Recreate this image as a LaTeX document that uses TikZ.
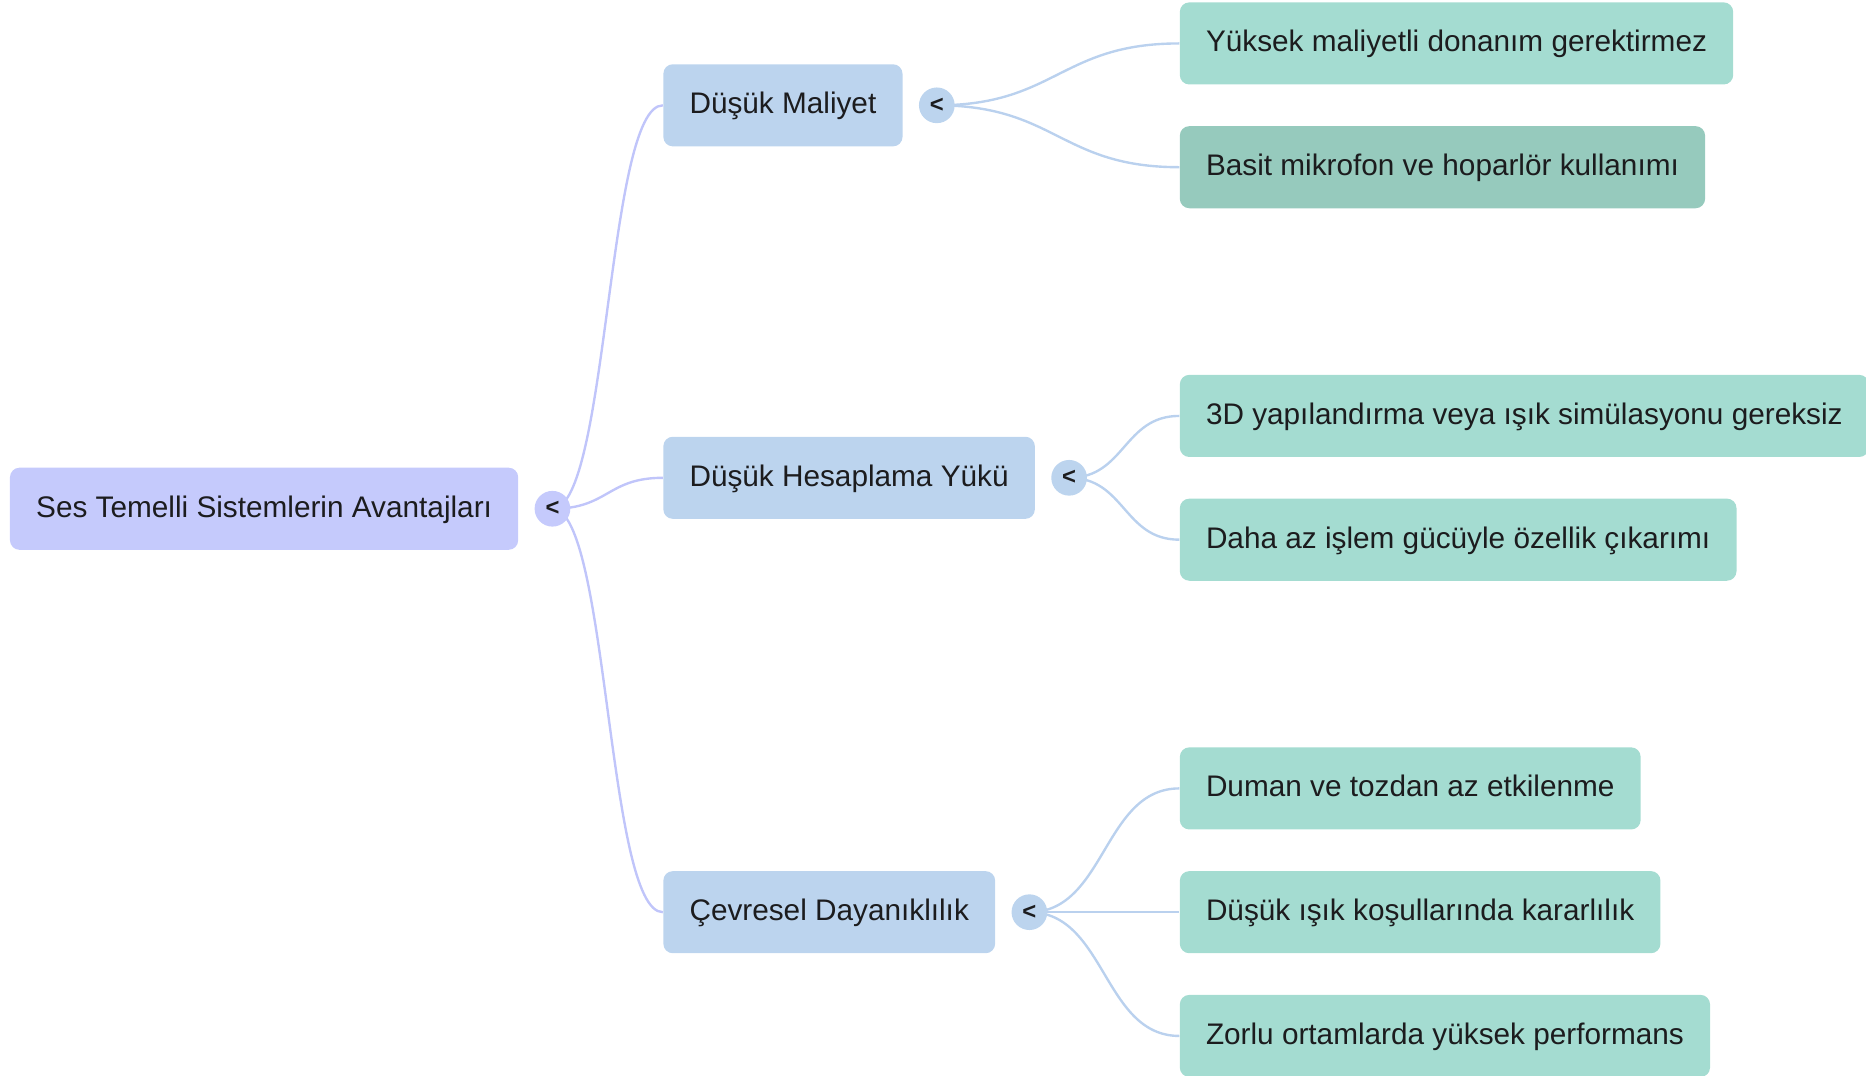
\documentclass[tikz,border=0pt]{standalone}
\usepackage{fontspec}
\setmainfont{Liberation Sans}
\usetikzlibrary{positioning,backgrounds}
\definecolor{rootcol}{RGB}{197,202,252}
\definecolor{topiccol}{RGB}{188,212,238}
\definecolor{leafcol}{RGB}{164,220,209}
\definecolor{leafdark}{RGB}{150,202,189}
\definecolor{rootedgecol}{RGB}{192,197,250}
\definecolor{topicedgecol}{RGB}{186,209,238}
\definecolor{inkcol}{RGB}{28,28,30}

\begin{document}
\begin{tikzpicture}
  [x=0.5pt, y=-0.5pt,
   every node/.style={font=\fontsize{12.5}{15}\selectfont, text=inkcol},
   box/.style={rounded corners=4pt, inner xsep=11pt, inner ysep=0pt,
     minimum height=34.5pt, text height=9pt, text depth=2pt, anchor=west},
   rootbox/.style={box, fill=rootcol},
   topicbox/.style={box, fill=topiccol},
   leafbox/.style={box, fill=leafcol},
   dot/.style={circle, inner sep=0pt, minimum size=15pt, font=\fontsize{10}{12}\selectfont\bfseries},
   rootdot/.style={dot, fill=rootcol},
   topicdot/.style={dot, fill=topiccol},
   rootedge/.style={draw=rootedgecol, line width=1pt},
   topicedge/.style={draw=topicedgecol, line width=1pt}]
  \useasboundingbox (0,0) rectangle (1568,904);

  \node[rootbox] (root) at (8,427.5) {Ses Temelli Sistemlerin Avantajları};
  \node[rootdot, right=6.5pt of root] (rootc) {<};

  \node[topicbox] (cost) at (557,88.5) {Düşük Maliyet};
  \node[topicdot, right=6.5pt of cost] (costc) {<};
  \node[topicbox] (load) at (557,401.5) {Düşük Hesaplama Yükü};
  \node[topicdot, right=6.5pt of load] (loadc) {<};
  \node[topicbox] (env) at (557,766.5) {Çevresel Dayanıklılık};
  \node[topicdot, right=6.5pt of env] (envc) {<};

  \node[leafbox] (hw) at (991,36.5) {Yüksek maliyetli donanım gerektirmez};
  \node[leafbox, fill=leafdark] (mic) at (991,140.5) {Basit mikrofon ve hoparlör kullanımı};
  \node[leafbox] (sim) at (991,349.5) {3D yapılandırma veya ışık simülasyonu gereksiz};
  \node[leafbox] (feat) at (991,453.5) {Daha az işlem gücüyle özellik çıkarımı};
  \node[leafbox] (smoke) at (991,662.5) {Duman ve tozdan az etkilenme};
  \node[leafbox] (light) at (991,766.5) {Düşük ışık koşullarında kararlılık};
  \node[leafbox] (perf) at (991,870.5) {Zorlu ortamlarda yüksek performans};

  \begin{scope}[on background layer]
    \foreach \t in {cost,load,env}
      \draw[rootedge] (rootc.center) .. controls +(47,0) and +(-47,0) .. (\t.west);
    \foreach \l in {hw,mic}
      \draw[topicedge] (costc.center) .. controls +(100,0) and +(-100,0) .. (\l.west);
    \foreach \l in {sim,feat}
      \draw[topicedge] (loadc.center) .. controls +(47,0) and +(-47,0) .. (\l.west);
    \foreach \l in {smoke,light,perf}
      \draw[topicedge] (envc.center) .. controls +(64,0) and +(-64,0) .. (\l.west);
  \end{scope}
\end{tikzpicture}
\end{document}
